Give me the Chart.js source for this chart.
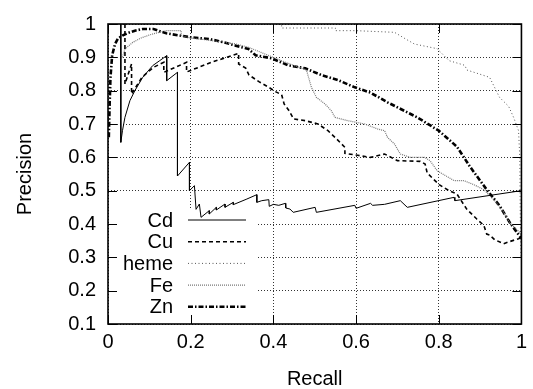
<!DOCTYPE html>
<html>
<head>
<meta charset="utf-8">
<script src="https://cdn.jsdelivr.net/npm/chart.js@4"></script>
<style>
  html, body { margin: 0; padding: 0; background: #fff; }
  #wrap { width: 533px; height: 389px; position: relative; }
</style>
</head>
<body>
<div id="wrap"><canvas id="pr"></canvas></div>
<script>
// Precision / recall curves per metal
const cdRecall = [0.031,0.031,0.035,0.041,0.053,0.065,0.084,0.108,0.125,0.142,0.142,0.168,0.168,0.197,0.197,0.209,0.213,0.221,0.225,0.245,0.245,0.262,0.262,0.283,0.283,0.303,0.303,0.336,0.36,0.36,0.372,0.389,0.39,0.40,0.413,0.429,0.43,0.44,0.448,0.501,0.504,0.597,0.60,0.635,0.64,0.669,0.707,0.724,0.837,0.839,1.0];
const cdPrecision = [1.0,0.645,0.68,0.72,0.77,0.80,0.84,0.875,0.89,0.905,0.83,0.855,0.544,0.585,0.50,0.515,0.444,0.46,0.42,0.44,0.43,0.45,0.442,0.46,0.45,0.465,0.458,0.475,0.488,0.465,0.47,0.473,0.453,0.459,0.456,0.462,0.448,0.445,0.435,0.45,0.435,0.456,0.447,0.462,0.456,0.459,0.47,0.45,0.48,0.47,0.5];

const cuRecall = [0.041,0.041,0.057,0.057,0.082,0.11,0.135,0.135,0.19,0.19,0.25,0.316,0.316,0.333,0.341,0.365,0.389,0.405,0.42,0.426,0.438,0.449,0.477,0.508,0.532,0.549,0.573,0.573,0.604,0.635,0.669,0.70,0.755,0.767,0.772,0.801,0.825,0.844,0.868,0.892,0.909,0.916,0.923,0.935,0.957,0.971,0.993,1.0];
const cuPrecision = [1.0,0.82,0.88,0.79,0.84,0.87,0.885,0.855,0.885,0.856,0.885,0.912,0.88,0.868,0.847,0.827,0.81,0.797,0.788,0.76,0.74,0.715,0.71,0.70,0.68,0.66,0.63,0.612,0.606,0.60,0.61,0.59,0.588,0.58,0.553,0.518,0.50,0.49,0.444,0.415,0.396,0.37,0.367,0.353,0.341,0.347,0.356,0.36];

const hemeRecall = [0,0.42,0.42,0.55,0.55,0.6,0.693,0.72,0.741,0.796,0.825,0.863,0.868,0.923,0.935,0.947,0.969,0.981,0.993,0.996,0.997,0.998,0.999];
const hemePrecision = [1.0,1.0,0.988,0.988,0.98,0.98,0.975,0.955,0.94,0.926,0.89,0.876,0.862,0.84,0.81,0.78,0.753,0.72,0.68,0.6,0.45,0.35,0.3];

const feRecall = [0.035,0.041,0.06,0.08,0.1,0.12,0.141,0.177,0.177,0.2,0.24,0.28,0.31,0.34,0.37,0.405,0.44,0.48,0.492,0.504,0.525,0.54,0.549,0.58,0.621,0.652,0.669,0.676,0.693,0.707,0.731,0.765,0.779,0.796,0.837,0.861,0.885,0.909,0.933,0.957,0.971,0.995,1.0];
const fePrecision = [0.90,0.925,0.945,0.958,0.967,0.974,0.98,0.98,0.965,0.958,0.952,0.945,0.94,0.93,0.915,0.897,0.88,0.862,0.81,0.78,0.76,0.74,0.72,0.71,0.70,0.685,0.68,0.66,0.64,0.61,0.60,0.60,0.59,0.56,0.53,0.53,0.518,0.503,0.473,0.435,0.405,0.376,0.365];

const znRecall = [0.002,0.004,0.006,0.01,0.017,0.024,0.036,0.048,0.065,0.084,0.11,0.141,0.2,0.245,0.28,0.309,0.34,0.357,0.396,0.436,0.477,0.516,0.556,0.597,0.635,0.676,0.70,0.748,0.80,0.844,0.875,0.916,0.947,0.971,1.0];
const znPrecision = [0.66,0.76,0.84,0.906,0.94,0.956,0.966,0.973,0.98,0.985,0.985,0.972,0.96,0.955,0.945,0.935,0.925,0.906,0.897,0.876,0.867,0.847,0.832,0.81,0.794,0.765,0.75,0.72,0.68,0.632,0.573,0.503,0.455,0.406,0.356];

const seriesNames = ['Cd', 'Cu', 'heme', 'Fe', 'Zn'];
const xTicks = [0, 0.2, 0.4, 0.6, 0.8, 1];
const yTicks = [0.1, 0.2, 0.3, 0.4, 0.5, 0.6, 0.7, 0.8, 0.9, 1];

const FONT = "'Liberation Sans', Arial, Helvetica, sans-serif";

function pts(rs, ps) {
  return rs.map((r, i) => ({ x: r, y: ps[i] }));
}

// line styles, one per series (gnuplot-like)
const styles = [
  { color: '#000', width: 1, dash: [] },
  { color: '#000', width: 1.6, dash: [4, 3] },
  { color: '#555', width: 1, dash: [1, 2.5] },
  { color: '#777', width: 1.2, dash: [1, 1] },
  { color: '#000', width: 2.6, dash: [5, 2, 1.5, 2] }
];

const allData = [
  pts(cdRecall, cdPrecision),
  pts(cuRecall, cuPrecision),
  pts(hemeRecall, hemePrecision),
  pts(feRecall, fePrecision),
  pts(znRecall, znPrecision)
];

const datasets = seriesNames.map((name, i) => ({
  label: name,
  data: allData[i],
  showLine: true,
  borderColor: styles[i].color,
  borderWidth: styles[i].width,
  borderDash: styles[i].dash,
  pointRadius: 0,
  tension: 0,
  fill: false
}));

// key box (opaque, hides the grid under it), then the entries
const keyPlugin = {
  id: 'gnuKey',
  beforeDatasetsDraw(chart) {
    const { ctx, chartArea: { left, bottom } } = chart;
    ctx.save();
    ctx.fillStyle = '#fff';
    ctx.fillRect(left + 1, bottom - 116, 149, 115);
    ctx.restore();
  },
  afterDatasetsDraw(chart) {
    const { ctx, chartArea: { left, bottom } } = chart;
    ctx.save();
    ctx.font = '20px ' + FONT;
    ctx.textAlign = 'right';
    ctx.textBaseline = 'middle';
    seriesNames.forEach((name, i) => {
      const yy = bottom - 104 + i * 21.7;
      ctx.fillStyle = '#000';
      ctx.fillText(name, left + 65, yy + 1);
      ctx.strokeStyle = styles[i].color;
      ctx.lineWidth = styles[i].width;
      ctx.setLineDash(styles[i].dash);
      ctx.beginPath();
      ctx.moveTo(left + 80, yy);
      ctx.lineTo(left + 138, yy);
      ctx.stroke();
    });
    ctx.restore();
  }
};

// full border and inward ticks on all sides
const framePlugin = {
  id: 'gnuFrame',
  afterDraw(chart) {
    const { ctx, chartArea: { left, right, top, bottom }, scales: { x, y } } = chart;
    ctx.save();
    ctx.strokeStyle = '#000';
    ctx.lineWidth = 1;
    ctx.beginPath();
    yTicks.forEach(v => {
      const py = Math.round(y.getPixelForValue(v)) + 0.5;
      ctx.moveTo(left, py); ctx.lineTo(left + 9, py);
      ctx.moveTo(right, py); ctx.lineTo(right - 9, py);
    });
    xTicks.forEach(v => {
      const px = Math.round(x.getPixelForValue(v)) + 0.5;
      ctx.moveTo(px, bottom); ctx.lineTo(px, bottom - 9);
      ctx.moveTo(px, top); ctx.lineTo(px, top + 9);
    });
    ctx.stroke();
    ctx.lineWidth = 1.6;
    ctx.strokeRect(left, top, right - left, bottom - top);
    ctx.restore();
  }
};

const fmt = v => String(Number(Number(v).toFixed(1)));

new Chart(document.getElementById('pr'), {
  type: 'scatter',
  data: { datasets },
  options: {
    responsive: true,
    maintainAspectRatio: false,
    animation: false,
    layout: { padding: { top: 18, right: 8, left: 0, bottom: 0 } },
    plugins: {
      legend: { display: false },
      tooltip: { enabled: false }
    },
    scales: {
      x: {
        type: 'linear',
        min: 0, max: 1,
        afterFit: (s) => { s.height = 65; },
        afterBuildTicks: (s) => { s.ticks = xTicks.map(v => ({ value: v })); },
        ticks: { padding: 6, color: '#000', font: { family: FONT, size: 20 }, callback: fmt, maxRotation: 0 },
        grid: { color: '#333', lineWidth: 1, drawTicks: false },
        border: { display: false, dash: [1, 2] },
        title: { display: true, text: 'Recall', color: '#000', font: { family: FONT, size: 20, lineHeight: 1 }, padding: { top: 0, bottom: 0 } }
      },
      y: {
        type: 'linear',
        min: 0.1, max: 1,
        afterFit: (s) => { s.width = 108; },
        afterBuildTicks: (s) => { s.ticks = yTicks.map(v => ({ value: v })); },
        ticks: { padding: 12, color: '#000', font: { family: FONT, size: 20 }, callback: fmt },
        grid: { color: '#333', lineWidth: 1, drawTicks: false },
        border: { display: false, dash: [1, 2] },
        title: { display: true, text: 'Precision', color: '#000', font: { family: FONT, size: 20, lineHeight: 1 }, padding: { top: 15, bottom: 0 } }
      }
    }
  },
  plugins: [keyPlugin, framePlugin]
});
</script>
</body>
</html>
